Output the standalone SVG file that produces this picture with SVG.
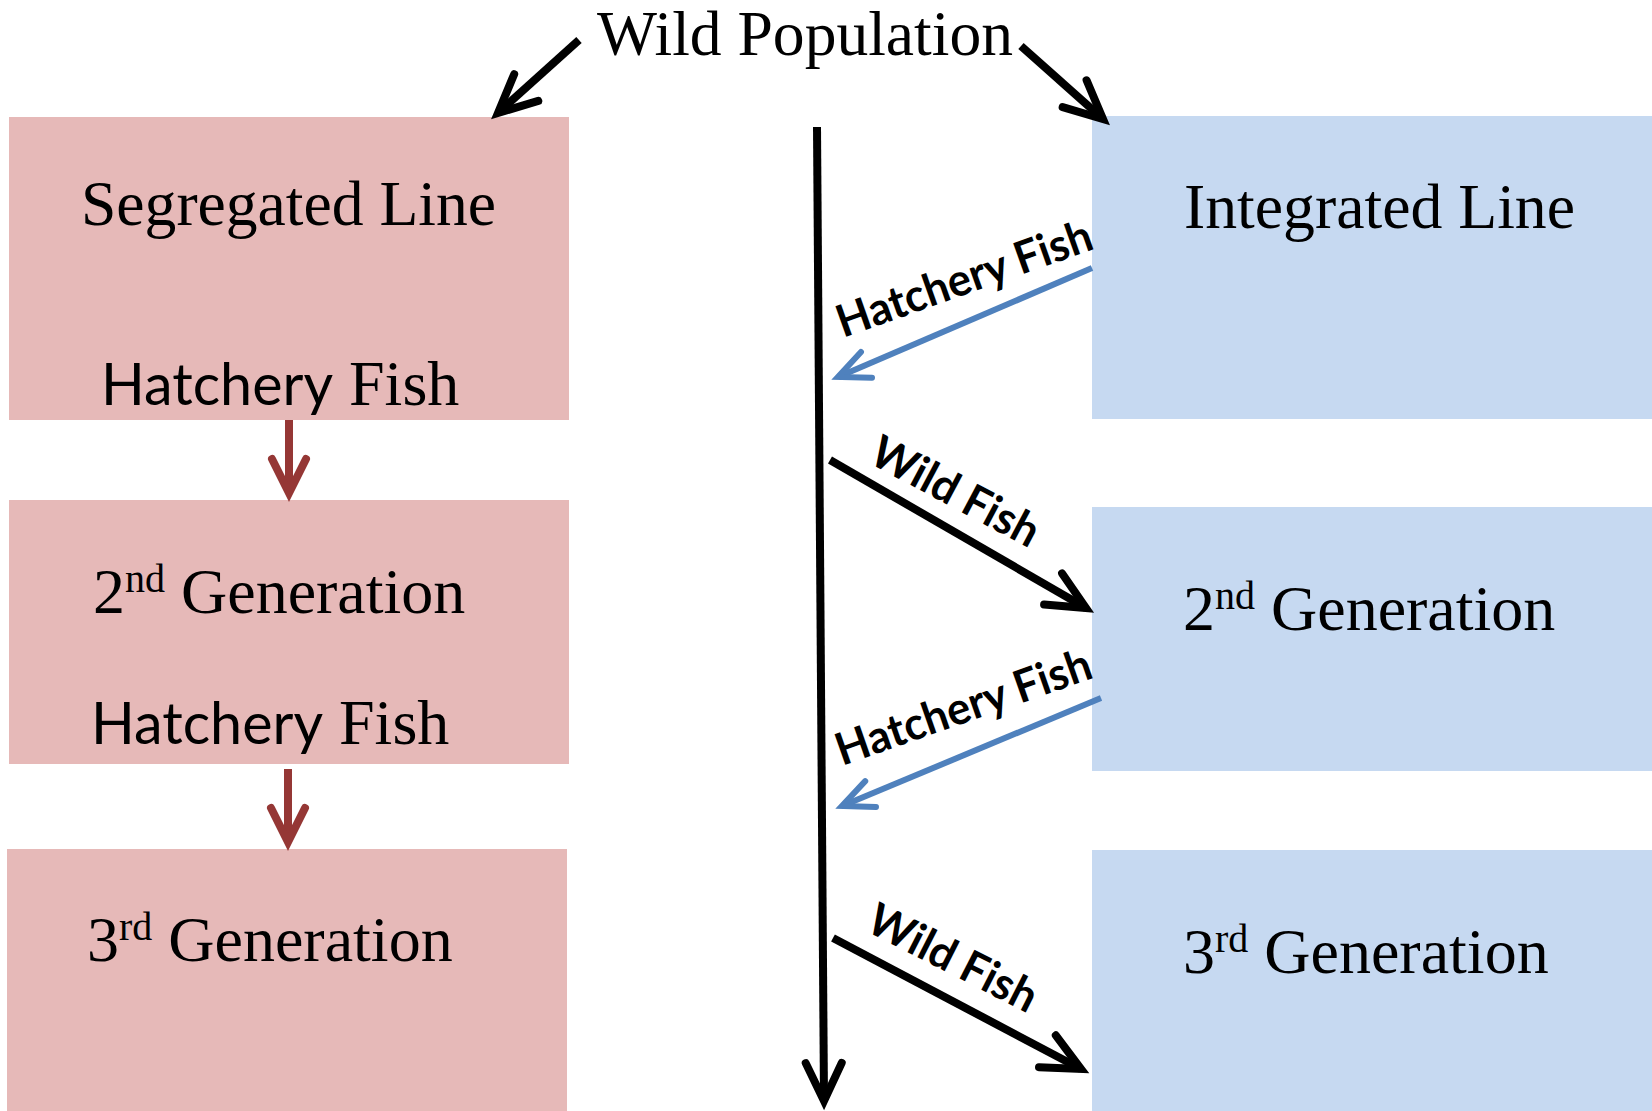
<svg xmlns="http://www.w3.org/2000/svg" width="1652" height="1111" viewBox="0 0 1652 1111">
  <style>
    .serif { font-family: "Liberation Serif", "Times New Roman", serif; font-size: 64px; fill: #000; }
    .sans { font-family: Lato, "Open Sans", sans-serif; font-size: 59px; fill: #000; }
    .lbl { font-family: Lato, "Open Sans", sans-serif; font-weight: bold; font-size: 45px; fill: #000; }
    .pink { fill: #E6B9B8; }
    .blue { fill: #C6D9F1; }
    .kline { fill: none; stroke: #000; stroke-width: 8; }
    .bline { fill: none; stroke: #4F81BD; stroke-width: 6; }
    .rline { fill: none; stroke: #953735; stroke-width: 8; }
  </style>
  <defs>
    <marker id="ahK" markerUnits="userSpaceOnUse" orient="auto" overflow="visible" refX="0" refY="0" markerWidth="1" markerHeight="1">
      <path d="M-38,-18 L0,0 L-38,18" fill="none" stroke="#000" stroke-width="8" stroke-linecap="round" stroke-linejoin="miter"/>
    </marker>
    <marker id="ahB" markerUnits="userSpaceOnUse" orient="auto" overflow="visible" refX="0" refY="0" markerWidth="1" markerHeight="1">
      <path d="M-31,-14 L0,0 L-31,14" fill="none" stroke="#4F81BD" stroke-width="6" stroke-linecap="round" stroke-linejoin="miter"/>
    </marker>
    <marker id="ahR" markerUnits="userSpaceOnUse" orient="auto" overflow="visible" refX="0" refY="0" markerWidth="1" markerHeight="1">
      <path d="M-34,-17 L0,0 L-34,17" fill="none" stroke="#953735" stroke-width="8" stroke-linecap="round" stroke-linejoin="miter"/>
    </marker>
  </defs>
  <rect width="1652" height="1111" fill="#fff"/>

  <g id="wild-population">
    <text class="serif" x="597" y="55" textLength="416" lengthAdjust="spacingAndGlyphs">Wild Population</text>
  </g>

  <g id="segregated-line">
    <rect class="pink" x="9" y="117" width="560" height="303"/>
    <text class="serif" x="81" y="225" textLength="415" lengthAdjust="spacingAndGlyphs">Segregated Line</text>
    <text class="sans" x="101" y="405" textLength="232" lengthAdjust="spacingAndGlyphs">Hatchery</text>
    <text class="serif" x="349" y="405">Fish</text>
  </g>
  <g id="seg-2nd-generation">
    <rect class="pink" x="9" y="500" width="560" height="264"/>
    <text class="serif" x="93" y="613">2<tspan font-size="40" dy="-21">nd</tspan><tspan dy="21"> Generation</tspan></text>
    <text class="sans" x="91" y="744" textLength="232" lengthAdjust="spacingAndGlyphs">Hatchery</text>
    <text class="serif" x="339" y="744">Fish</text>
  </g>
  <g id="seg-3rd-generation">
    <rect class="pink" x="7" y="849" width="560" height="262"/>
    <text class="serif" x="87" y="961">3<tspan font-size="40" dy="-21">rd</tspan><tspan dy="21"> Generation</tspan></text>
  </g>

  <g id="integrated-line">
    <rect class="blue" x="1092" y="116" width="560" height="303"/>
    <text class="serif" x="1184" y="228" textLength="391" lengthAdjust="spacingAndGlyphs">Integrated Line</text>
  </g>
  <g id="int-2nd-generation">
    <rect class="blue" x="1092" y="507" width="560" height="264"/>
    <text class="serif" x="1183" y="630">2<tspan font-size="40" dy="-21">nd</tspan><tspan dy="21"> Generation</tspan></text>
  </g>
  <g id="int-3rd-generation">
    <rect class="blue" x="1092" y="850" width="560" height="261"/>
    <text class="serif" x="1183" y="973">3<tspan font-size="40" dy="-21">rd</tspan><tspan dy="21"> Generation</tspan></text>
  </g>

  <g id="connectors">
    <path class="kline" d="M579,40 L498,113" marker-end="url(#ahK)"/>
    <path class="kline" d="M1021,46 L1103,119" marker-end="url(#ahK)"/>
    <path class="kline" d="M817,127 L824,1101" marker-end="url(#ahK)"/>
    <path class="rline" d="M289,420 L289,493" marker-end="url(#ahR)"/>
    <path class="rline" d="M288,769 L288,842" marker-end="url(#ahR)"/>
    <path class="bline" d="M1092,268 L838,377" marker-end="url(#ahB)"/>
    <path class="bline" d="M1101,698 L842,806" marker-end="url(#ahB)"/>
    <path class="kline" d="M830,460 L1086,608" marker-end="url(#ahK)"/>
    <path class="kline" d="M833,938 L1081,1069" marker-end="url(#ahK)"/>
    <text class="lbl" transform="translate(843,338) rotate(-19.5)" textLength="268" lengthAdjust="spacingAndGlyphs">Hatchery Fish</text>
    <text class="lbl" transform="translate(842,766) rotate(-19.3)" textLength="268" lengthAdjust="spacingAndGlyphs">Hatchery Fish</text>
    <text class="lbl" transform="translate(867,462) rotate(28)" textLength="184" lengthAdjust="spacingAndGlyphs">Wild Fish</text>
    <text class="lbl" transform="translate(864,930) rotate(27)" textLength="184" lengthAdjust="spacingAndGlyphs">Wild Fish</text>
  </g>
</svg>
